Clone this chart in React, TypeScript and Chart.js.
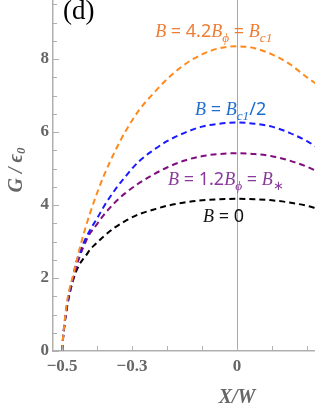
import React, { useEffect, useRef } from "react";
import { Chart, registerables } from "chart.js";

Chart.register(...registerables);

const xValues = [-0.5, -0.497, -0.494, -0.49, -0.485, -0.48, -0.475, -0.47, -0.46, -0.45, -0.44, -0.43, -0.42, -0.4, -0.38, -0.35, -0.32, -0.28, -0.24, -0.2, -0.15, -0.1, -0.05, 0, 0.05, 0.1, 0.15, 0.2, 0.23];
const gBc1 = [0, 0.4, 0.7, 1.05, 1.4, 1.65, 1.85, 2.02, 2.4, 2.8, 3.15, 3.48, 3.78, 4.33, 4.82, 5.45, 6.0, 6.6, 7.05, 7.45, 7.85, 8.13, 8.3, 8.35, 8.3, 8.13, 7.87, 7.5, 7.3];
const gBc1Half = [0, 0.4, 0.68, 1.0, 1.32, 1.58, 1.8, 1.98, 2.42, 2.68, 2.93, 3.13, 3.32, 3.63, 3.97, 4.4, 4.77, 5.2, 5.5, 5.75, 5.98, 6.15, 6.23, 6.26, 6.23, 6.15, 5.98, 5.75, 5.58];
const gBstar = [0, 0.38, 0.65, 0.97, 1.27, 1.5, 1.72, 1.9, 2.28, 2.58, 2.83, 3.05, 3.23, 3.48, 3.74, 4.06, 4.32, 4.6, 4.83, 5.03, 5.22, 5.34, 5.4, 5.42, 5.4, 5.34, 5.22, 5.05, 4.92];
const gB0 = [0, 0.38, 0.65, 0.95, 1.25, 1.52, 1.72, 1.9, 2.18, 2.38, 2.52, 2.64, 2.78, 2.97, 3.15, 3.38, 3.56, 3.75, 3.87, 3.98, 4.07, 4.13, 4.16, 4.17, 4.16, 4.13, 4.07, 3.98, 3.9];

const seriesColors = ["#ff8a1c", "#1a1aff", "#800c80", "#000000"];
const labelColors = ["#ee7d33", "#1f6fd0", "#8a3a9c", "#111111"];

const xLabeledTicks = [-0.5, -0.3, 0];
const xMinorTicks = [-0.5, -0.4, -0.3, -0.2, -0.1, 0, 0.1, 0.2];
const yLabeledTicks = [0, 2, 4, 6, 8];
const yMinorTicks = [0, 0.5, 1, 1.5, 2, 2.5, 3, 3.5, 4, 4.5, 5, 5.5, 6, 6.5, 7, 7.5, 8, 8.5, 9, 9.5];

// annotation anchors (left x, baseline y) in data units
const annotX = [-0.234, -0.12, -0.197, -0.097];
const annotY = [8.6, 6.47, 4.55, 3.53];
type Seg = { t: string; it?: boolean; sub?: boolean };
const annotSegs: Seg[][] = [
  [{ t: "B", it: true }, { t: " = 4.2" }, { t: "B", it: true }, { t: "ϕ", it: true, sub: true }, { t: " = " }, { t: "B", it: true }, { t: "c1", it: true, sub: true }],
  [{ t: "B", it: true }, { t: " = " }, { t: "B", it: true }, { t: "c1", it: true, sub: true }, { t: "/2" }],
  [{ t: "B", it: true }, { t: " = 1.2" }, { t: "B", it: true }, { t: "ϕ", it: true, sub: true }, { t: " = " }, { t: "B", it: true }, { t: "∗", sub: true }],
  [{ t: "B", it: true }, { t: " = 0" }],
];

const overlay = {
  id: "overlay",
  afterDraw(chart: any) {
    const ctx = chart.ctx;
    const xs = chart.scales.x;
    const ys = chart.scales.y;
    const area = chart.chartArea;
    ctx.save();
    // vertical line at x = 0
    ctx.strokeStyle = "#a8a8a8";
    ctx.lineWidth = 1;
    const x0 = Math.round(xs.getPixelForValue(0)) + 0.5;
    ctx.beginPath();
    ctx.moveTo(x0, area.top);
    ctx.lineTo(x0, area.bottom);
    ctx.stroke();
    // inner ticks
    ctx.strokeStyle = "#b0b0b0";
    ctx.lineWidth = 1;
    for (const v of yMinorTicks) {
      const y = Math.round(ys.getPixelForValue(v)) + 0.5;
      const len = yLabeledTicks.includes(v) ? 6 : 4;
      ctx.beginPath();
      ctx.moveTo(area.left, y);
      ctx.lineTo(area.left + len, y);
      ctx.stroke();
    }
    for (const v of xMinorTicks) {
      const x = Math.round(xs.getPixelForValue(v)) + 0.5;
      ctx.beginPath();
      ctx.moveTo(x, area.bottom);
      ctx.lineTo(x, area.bottom - 5);
      ctx.stroke();
    }
    // annotations
    const size = 18;
    annotSegs.forEach((segs, i) => {
      let x = xs.getPixelForValue(annotX[i]);
      const y = ys.getPixelForValue(annotY[i]);
      ctx.fillStyle = labelColors[i];
      ctx.textBaseline = "alphabetic";
      ctx.textAlign = "left";
      for (const s of segs) {
        const fs = s.sub ? size * 0.74 : size;
        ctx.font = `${s.it ? "italic " : ""}${fs}px ${s.it ? '"Liberation Serif"' : '"Noto Sans"'}`;
        ctx.fillText(s.t, x, y + (s.sub ? 5 : 0));
        x += ctx.measureText(s.t).width;
      }
    });
    // (d)
    ctx.fillStyle = "#000";
    ctx.font = '27px "Liberation Serif"';
    ctx.fillText("(d)", area.left + 10, area.top + 19);
    // axis titles
    ctx.fillStyle = "#666";
    ctx.font = 'bold italic 20px "Liberation Serif"';
    ctx.textAlign = "center";
    ctx.fillText("X/W", xs.getPixelForValue(0), area.bottom + 52);
    ctx.save();
    ctx.translate(22, 170);
    ctx.rotate(-Math.PI / 2);
    ctx.textAlign = "left";
    const parts: Seg[] = [{ t: "G / ϵ" }, { t: "0", sub: true }];
    let total = 0;
    for (const p of parts) {
      ctx.font = `bold italic ${p.sub ? 13 : 20}px "Liberation Serif"`;
      total += ctx.measureText(p.t).width;
    }
    let tx = -total / 2;
    for (const p of parts) {
      ctx.font = `bold italic ${p.sub ? 13 : 20}px "Liberation Serif"`;
      ctx.fillText(p.t, tx, p.sub ? 3 : 0);
      tx += ctx.measureText(p.t).width;
    }
    ctx.restore();
    ctx.restore();
  },
};

const zeroPad = (s: any) => {
  s.paddingTop = 0;
  s.paddingBottom = 0;
  s.paddingLeft = 0;
  s.paddingRight = 0;
};

export default function App() {
  const ref = useRef<HTMLCanvasElement | null>(null);
  useEffect(() => {
    document.body.style.margin = "0";
    const mk = (data: number[], i: number) => ({
      data: xValues.map((x, k) => ({ x, y: data[k] })),
      borderColor: seriesColors[i],
      borderWidth: 2,
      borderDash: [6, 4],
      pointRadius: 0,
      fill: false,
      cubicInterpolationMode: "monotone" as const,
    });
    const chart = new Chart(ref.current!, {
      type: "line",
      data: {
        datasets: [mk(gBc1, 0), mk(gBc1Half, 1), mk(gBstar, 2), mk(gB0, 3)],
      },
      options: {
        animation: false,
        responsive: false,
        layout: { padding: 0 },
        plugins: { legend: { display: false }, tooltip: { enabled: false } },
        scales: {
          x: {
            type: "linear",
            min: -0.526,
            max: 0.223,
            grid: { display: false, drawTicks: false },
            border: { display: true, color: "#b0b0b0", width: 1.5 },
            ticks: {
              padding: 5,
              color: "#666",
              font: { family: '"Liberation Serif"', size: 17, weight: "bold" },
              callback: (v: any) => (v < 0 ? "−" + Math.abs(v) : String(v)),
            },
            afterBuildTicks: (s: any) => {
              s.ticks = xLabeledTicks.map((value) => ({ value }));
            },
            afterFit: (s: any) => {
              s.height = 56;
              zeroPad(s);
            },
          },
          y: {
            type: "linear",
            min: 0,
            max: 9.62,
            grid: { display: false, drawTicks: false },
            border: { display: true, color: "#b0b0b0", width: 1.5 },
            ticks: {
              padding: 4,
              color: "#666",
              font: { family: '"Liberation Serif"', size: 17, weight: "bold" },
            },
            afterBuildTicks: (s: any) => {
              s.ticks = yLabeledTicks.map((value) => ({ value }));
            },
            afterFit: (s: any) => {
              s.width = 53;
              zeroPad(s);
            },
          },
        },
      },
      plugins: [overlay],
    });
    return () => chart.destroy();
  }, []);
  return (
    <div style={{ position: "fixed", left: 0, top: 0, width: 315, height: 407 }}>
      <canvas ref={ref} width={315} height={407} />
    </div>
  );
}
